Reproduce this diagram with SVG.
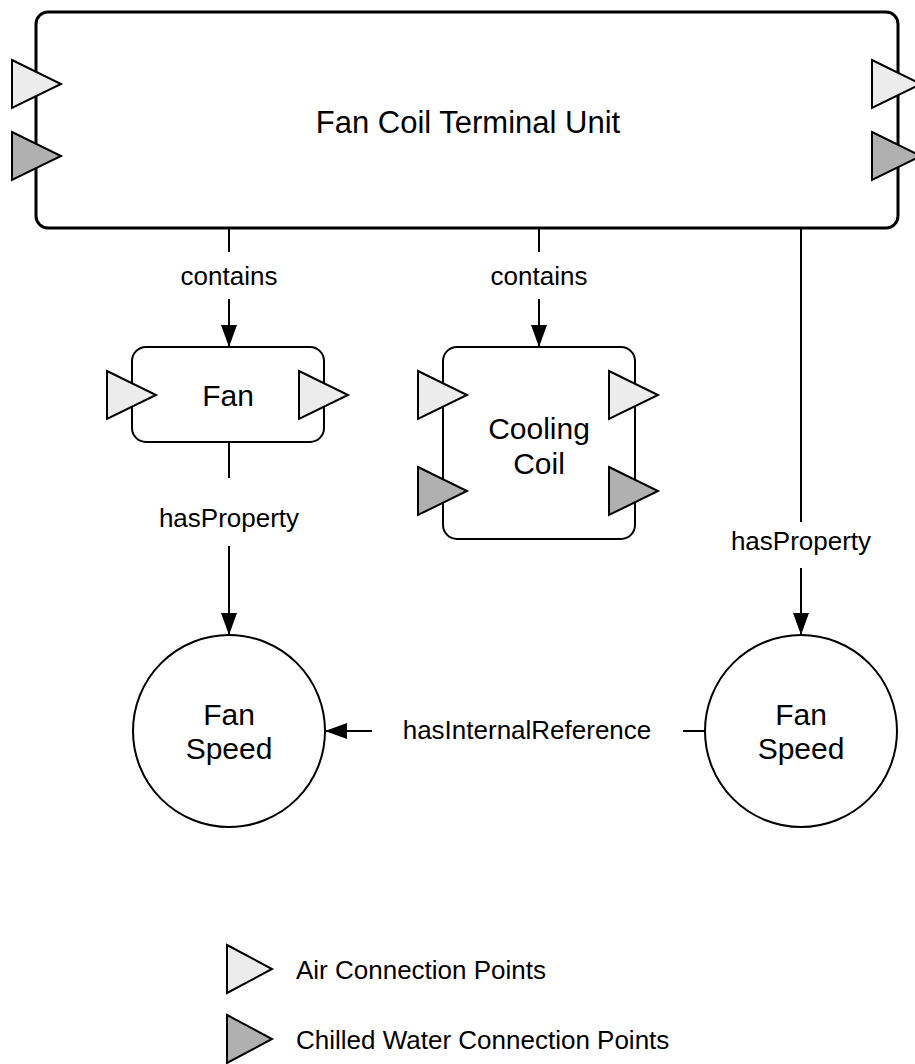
<svg xmlns="http://www.w3.org/2000/svg" width="915" height="1064" viewBox="0 0 915 1064">
<defs>
<style>
.box{fill:#fff;stroke:#000;stroke-width:2}
.main{fill:#fff;stroke:#000;stroke-width:3}
.air{fill:#ececec;stroke:#000;stroke-width:2;stroke-linejoin:miter}
.cw{fill:#b0b0b0;stroke:#000;stroke-width:2;stroke-linejoin:miter}
.t{font-family:"Liberation Sans",Arial,sans-serif;fill:#000;text-anchor:middle}
.title{font-size:31px}
.node{font-size:30px}
.lbl{font-size:26px}
.leg{font-family:"Liberation Sans",Arial,sans-serif;fill:#000;font-size:26px}
.ln{stroke:#000;stroke-width:2;fill:none}
</style>
<marker id="arr" viewBox="0 0 22 16" refX="22" refY="8" markerWidth="22" markerHeight="16" markerUnits="userSpaceOnUse" orient="auto">
<path d="M0,0 L22,8 L0,16 Z" fill="#000"/>
</marker>
</defs>
<rect width="915" height="1064" fill="#fff"/>

<g id="fctu">
<rect class="main" x="36" y="12" width="862" height="216" rx="12"/>
<polygon class="air" points="12,60 61,84 12,108"/>
<polygon class="cw" points="12,132 61,156 12,180"/>
<polygon class="air" points="872,60 921,84 872,108"/>
<polygon class="cw" points="872,132 921,156 872,180"/>
<text class="t title" x="468" y="133">Fan Coil Terminal Unit</text>
</g>

<g id="fan">
<rect class="box" x="132" y="347" width="192" height="95" rx="14"/>
<polygon class="air" points="107,371 156,395 107,419"/>
<polygon class="air" points="299,371 348,395 299,419"/>
<text class="t node" x="228" y="406">Fan</text>
</g>

<g id="coolingcoil">
<rect class="box" x="443" y="347" width="192" height="192" rx="14"/>
<polygon class="air" points="418,371 467,395 418,419"/>
<polygon class="cw" points="418,467 467,491 418,515"/>
<polygon class="air" points="609,371 658,395 609,419"/>
<polygon class="cw" points="609,467 658,491 609,515"/>
<text class="t node" x="539" y="439">Cooling</text>
<text class="t node" x="539" y="474">Coil</text>
</g>

<g id="fanspeed1">
<circle class="box" cx="229" cy="731" r="96"/>
<text class="t node" x="229" y="725">Fan</text>
<text class="t node" x="229" y="759">Speed</text>
</g>

<g id="fanspeed2">
<circle class="box" cx="801" cy="731" r="96"/>
<text class="t node" x="801" y="725">Fan</text>
<text class="t node" x="801" y="759">Speed</text>
</g>

<g id="connectors">
<line class="ln" x1="229" y1="228" x2="229" y2="252"/>
<text class="t lbl" x="229" y="285">contains</text>
<line class="ln" x1="229" y1="299" x2="229" y2="347" marker-end="url(#arr)"/>

<line class="ln" x1="539" y1="228" x2="539" y2="252"/>
<text class="t lbl" x="539" y="285">contains</text>
<line class="ln" x1="539" y1="299" x2="539" y2="347" marker-end="url(#arr)"/>

<line class="ln" x1="229" y1="442" x2="229" y2="478"/>
<text class="t lbl" x="229" y="527">hasProperty</text>
<line class="ln" x1="229" y1="546" x2="229" y2="635" marker-end="url(#arr)"/>

<line class="ln" x1="801" y1="228" x2="801" y2="522"/>
<text class="t lbl" x="801" y="550">hasProperty</text>
<line class="ln" x1="801" y1="568" x2="801" y2="635" marker-end="url(#arr)"/>

<line class="ln" x1="705" y1="731" x2="683" y2="731"/>
<text class="t lbl" x="527" y="739">hasInternalReference</text>
<line class="ln" x1="372" y1="731" x2="325" y2="731" marker-end="url(#arr)"/>
</g>

<g id="legend">
<polygon class="air" points="227,945 272,969 227,993"/>
<text class="leg" x="296" y="979">Air Connection Points</text>
<polygon class="cw" points="227,1015 272,1039 227,1063"/>
<text class="leg" x="296" y="1049">Chilled Water Connection Points</text>
</g>
</svg>
